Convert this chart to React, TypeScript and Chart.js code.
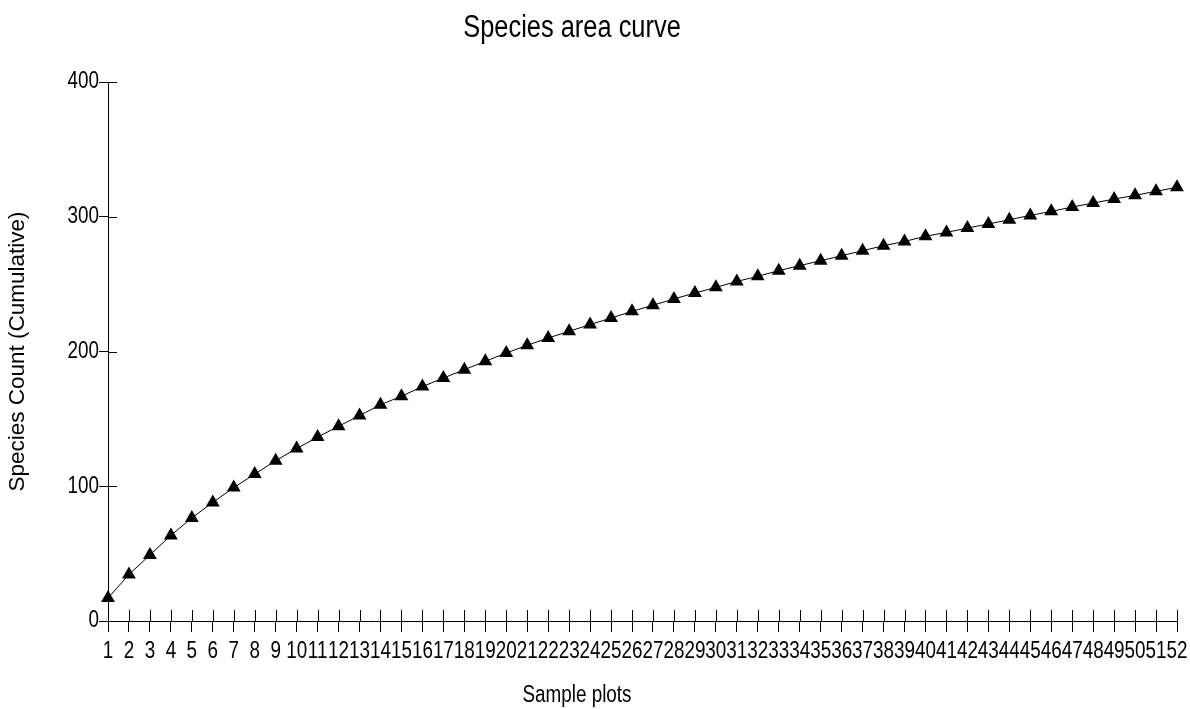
import React, { useEffect, useRef } from "react";
import { Chart, registerables } from "chart.js";

Chart.register(...registerables);

const chartTitle = "Species area curve";
const xAxisTitle = "Sample plots";
const yAxisTitle = "Species Count (Cumulative)";

const plotLabels: string[] = Array.from({ length: 52 }, (_, i) => String(i + 1));

const speciesCount: number[] = [
  17, 34.5, 49, 63.5, 76.5, 88, 99, 109, 119, 128,
  136.5, 144.5, 152.5, 160.5, 166.8, 174, 180.3, 186.5, 192.7, 198.9,
  204.6, 210, 215, 220, 224.8, 229.8, 234.3, 239, 243.4, 247.6,
  252, 255.8, 260, 263.7, 267.4, 271.1, 274.8, 278.5, 281.7, 285.5,
  288.4, 291.6, 294.6, 297.8, 301, 304, 307.2, 310.2, 313.1, 315.9,
  318.9, 321.8,
];

const yMin = 0;
const yMax = 400;
const yStep = 100;

const FONT = "'Liberation Sans', Arial, sans-serif";
const CONDENSE = 0.82;

function drawCondensed(ctx: any, text: string, x: number, y: number, size: number, align: string) {
  ctx.save();
  ctx.font = `${size}px ${FONT}`;
  ctx.textAlign = align;
  ctx.textBaseline = "middle";
  ctx.translate(x, y);
  ctx.scale(CONDENSE, 1);
  ctx.fillText(text, 0, 0);
  ctx.restore();
}

const decorPlugin = {
  id: "decor",
  afterDraw(chart: any) {
    const ctx = chart.ctx;
    const xs = chart.scales.x;
    const ys = chart.scales.y;
    ctx.save();
    ctx.strokeStyle = "#000";
    ctx.lineWidth = 1;
    ctx.beginPath();
    // inner halves of the crossing tick marks
    xs.ticks.forEach((_: any, i: number) => {
      const px = Math.round(xs.getPixelForTick(i)) + 0.5;
      ctx.moveTo(px, xs.top);
      ctx.lineTo(px, xs.top - 11);
    });
    ys.ticks.forEach((_: any, i: number) => {
      const py = Math.round(ys.getPixelForTick(i)) + 0.5;
      ctx.moveTo(ys.right, py);
      ctx.lineTo(ys.right + 9, py);
    });
    ctx.stroke();

    ctx.fillStyle = "#000";
    // tick labels
    xs.ticks.forEach((t: any, i: number) => {
      drawCondensed(ctx, String(plotLabels[i]), xs.getPixelForTick(i), xs.top + 31, 23, "center");
    });
    ys.ticks.forEach((t: any, i: number) => {
      drawCondensed(ctx, String(t.value), ys.right - 9, ys.getPixelForTick(i), 23, "right");
    });
    // titles
    drawCondensed(ctx, chartTitle, 572, 28, 31, "center");
    drawCondensed(ctx, xAxisTitle, 577, 696, 23, "center");
    ctx.restore();
  },
};

export default function App() {
  const ref = useRef<HTMLCanvasElement | null>(null);

  useEffect(() => {
    if (!ref.current) return;
    const chart = new Chart(ref.current, {
      type: "line",
      data: {
        labels: plotLabels,
        datasets: [
          {
            data: speciesCount,
            borderColor: "#000",
            borderWidth: 1,
            backgroundColor: "#000",
            pointStyle: "triangle",
            pointRadius: 8,
            pointBackgroundColor: "#000",
            pointBorderColor: "#000",
            pointBorderWidth: 0,
            tension: 0,
            clip: false,
          } as any,
        ],
      },
      options: {
        animation: false,
        responsive: false,
        maintainAspectRatio: false,
        layout: { padding: { top: 82, right: 13, left: 0, bottom: 0 } },
        plugins: {
          legend: { display: false },
          title: { display: false },
          tooltip: { enabled: false },
        },
        scales: {
          x: {
            type: "category",
            offset: false,
            border: { display: true, color: "#000", width: 1 },
            grid: {
              drawOnChartArea: false,
              drawTicks: true,
              tickLength: 11,
              color: "#000",
            },
            ticks: {
              display: false,
              autoSkip: false,
              maxRotation: 0,
              minRotation: 0,
            },
            afterFit: (scale: any) => {
              scale.height = 88;
            },
          },
          y: {
            min: yMin,
            max: yMax,
            border: { display: true, color: "#000", width: 1 },
            grid: {
              drawOnChartArea: false,
              drawTicks: true,
              tickLength: 9,
              color: "#000",
            },
            ticks: {
              display: false,
              stepSize: yStep,
            },
            title: {
              display: true,
              text: yAxisTitle,
              color: "#000",
              font: { family: FONT, size: 22.5 },
              padding: { top: 4, bottom: 0 },
            },
            afterFit: (scale: any) => {
              scale.width = 108;
            },
          },
        },
      },
      plugins: [decorPlugin],
    });
    return () => chart.destroy();
  }, []);

  return (
    <div style={{ position: "absolute", left: 0, top: 0, width: 1190, height: 709, background: "#fff" }}>
      <canvas ref={ref} width={1190} height={709} style={{ display: "block" }} />
    </div>
  );
}
